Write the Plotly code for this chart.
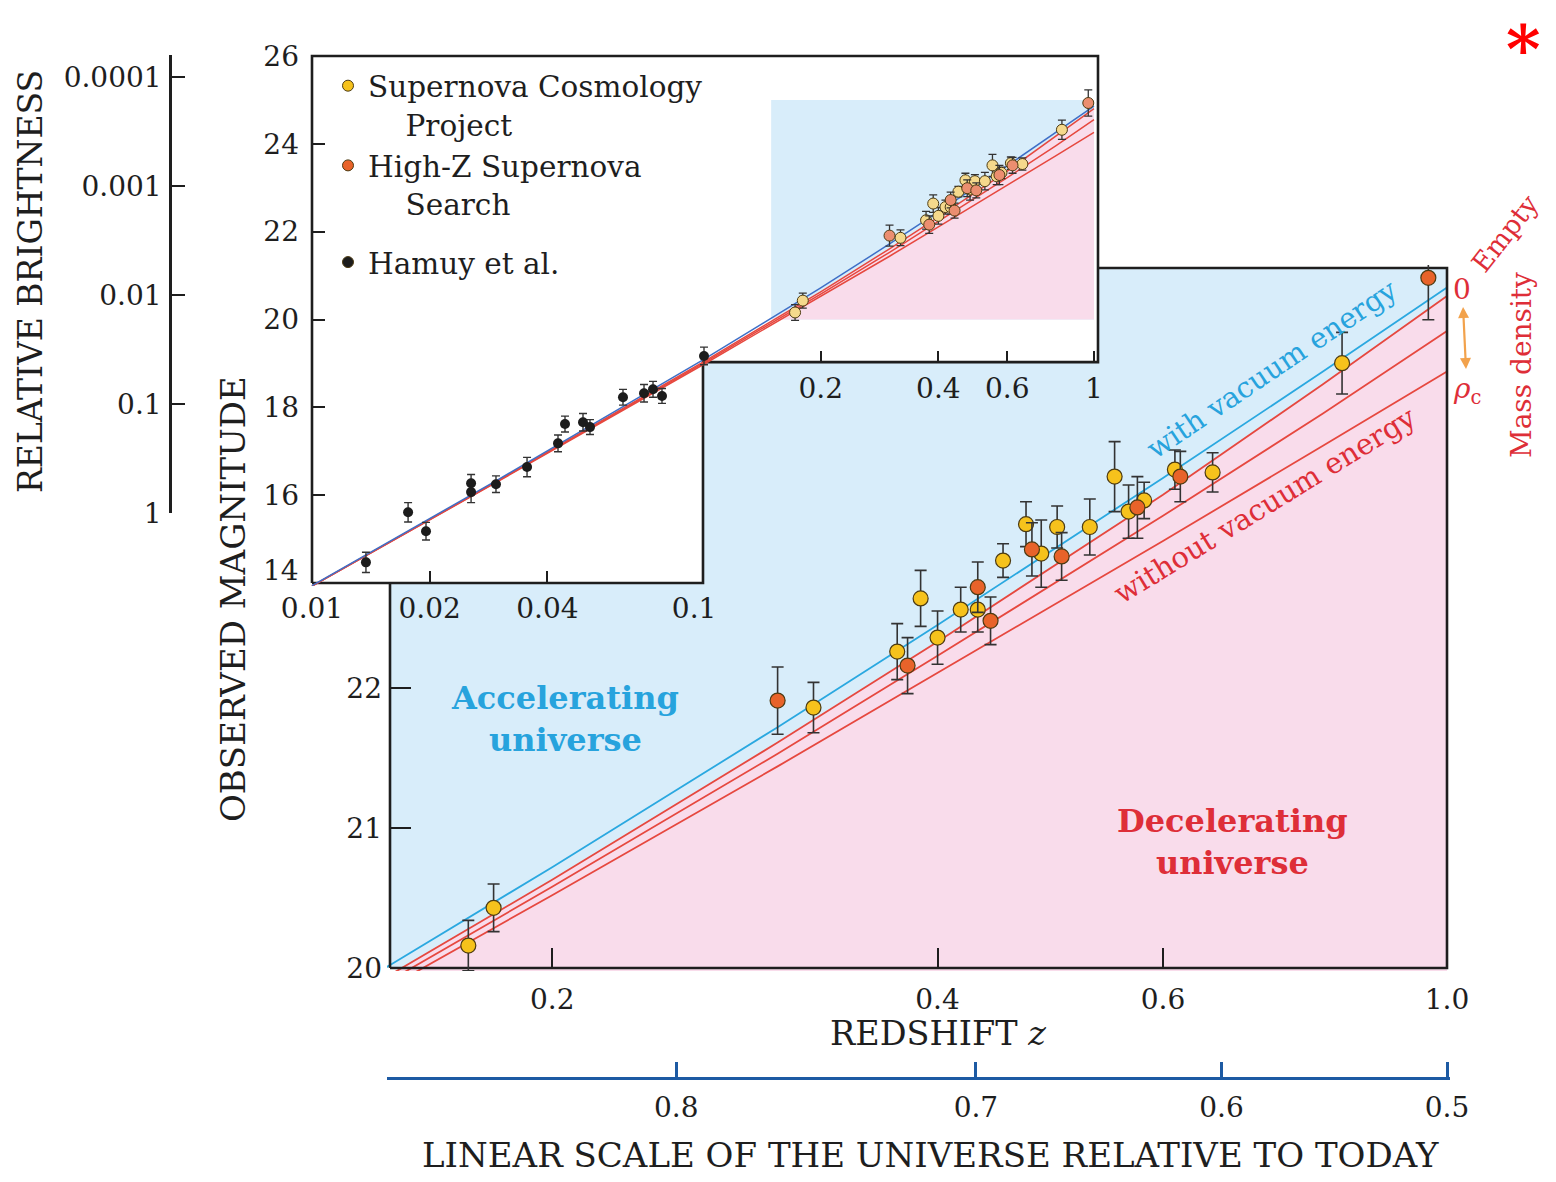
import math
import plotly.graph_objects as go

# the page body keeps an 8px margin, so the figure is drawn 16px smaller
OFF = 8
W, H = 1556 - 2 * OFF, 1182 - 2 * OFF
FONT = "DejaVu Serif"

# ---------------- data ----------------
# model curves: observed magnitude vs redshift
z_model = [0.01, 0.03, 0.1, 0.15, 0.2, 0.3, 0.4, 0.6, 0.8, 1.0]
m_with_vacuum = [13.94, 16.36, 19.08, 20.03, 20.72, 21.72, 22.45, 23.50, 24.26, 24.86]
m_empty = [13.93, 16.34, 19.03, 19.96, 20.63, 21.61, 22.33, 23.38, 24.17, 24.80]
m_mid = [13.93, 16.33, 19.00, 19.92, 20.58, 21.53, 22.23, 23.23, 23.96, 24.55]
m_critical = [13.93, 16.32, 18.97, 19.88, 20.52, 21.44, 22.11, 23.05, 23.73, 24.26]

# Supernova Cosmology Project
scp_z = [0.172, 0.180, 0.320, 0.372, 0.388, 0.400, 0.417, 0.430, 0.450, 0.469,
         0.482, 0.496, 0.526, 0.550, 0.564, 0.580, 0.613, 0.656, 0.828]
scp_m = [20.16, 20.43, 21.86, 22.26, 22.64, 22.36, 22.56, 22.56, 22.91, 23.17,
         22.96, 23.15, 23.15, 23.51, 23.26, 23.34, 23.56, 23.54, 24.32]
scp_err = [0.18, 0.17, 0.18, 0.20, 0.20, 0.19, 0.16, 0.16, 0.12, 0.16,
           0.24, 0.15, 0.20, 0.25, 0.19, 0.13, 0.14, 0.14, 0.22]

# High-Z Supernova Search
hz_z = [0.300, 0.379, 0.430, 0.440, 0.474, 0.500, 0.573, 0.619, 0.967]
hz_m = [21.91, 22.16, 22.72, 22.48, 22.99, 22.94, 23.29, 23.51, 24.93]
hz_err = [0.24, 0.20, 0.18, 0.17, 0.19, 0.17, 0.22, 0.18, 0.30]

# Hamuy et al. (nearby supernovae)
hamuy_z = [0.01374, 0.01761, 0.01957, 0.02552, 0.02552, 0.02955, 0.03548, 0.04258,
           0.04437, 0.04933, 0.0514, 0.06243, 0.07066, 0.07451, 0.07855, 0.1006]
hamuy_m = [14.47, 15.61, 15.18, 16.27, 16.07, 16.25, 16.64, 17.18,
           17.62, 17.66, 17.55, 18.23, 18.32, 18.41, 18.26, 19.17]
hamuy_err = [0.23, 0.22, 0.20, 0.20, 0.24, 0.19, 0.22, 0.19,
             0.18, 0.20, 0.17, 0.18, 0.20, 0.18, 0.17, 0.20]

# tick labels
main_z_ticks = [0.2, 0.4, 0.6, 1.0]
main_z_labels = ["0.2", "0.4", "0.6", "1.0"]
main_m_ticks = [20, 21, 22]
inset_z_ticks_low = [0.01, 0.02, 0.04, 0.1]
inset_z_labels_low = ["0.01", "0.02", "0.04", "0.1\u00a0\u00a0"]
inset_z_ticks_high = [0.2, 0.4, 0.6, 1.0]
inset_z_labels_high = ["0.2", "0.4", "0.6", "1"]
inset_m_ticks = [16, 18, 20, 22, 24, 26]
inset_m_bottom_label = "14"
brightness_ticks = [1, 0.1, 0.01, 0.001, 0.0001]
brightness_labels = ["1", "0.1", "0.01", "0.001", "0.0001"]
scale_ticks = [0.8, 0.7, 0.6, 0.5]
scale_tick_z = [1.0 / a - 1.0 for a in scale_ticks]

# ---------------- style ----------------
BG_BLUE = "#d8edfa"
BG_PINK = "#f9dceb"
LINE_BLUE = "#2aa8e0"
LINE_RED = "#e6483f"
INSET_LINE_BLUE = "#3e6fc7"
SCP_C = "#f6c21c"
HZ_C = "#e8632a"
SCP_INSET = "#f5d98c"
HZ_INSET = "#eb8e70"
OUTLINE = "#4d3b12"
ERR_C = "#333333"
TEXT_BLUE = "#27a3dd"
TEXT_RED = "#de2e38"
AXIS_BLUE = "#1d5aa3"
ARROW_C = "#f2a24c"
INK = "#1e1e1e"


def px_x(p):
    return (p - OFF) / W


def px_y(p):
    return 1 - (p - OFF) / H


PAD = 3
# main panel geometry (window pixels) and data limits
MAIN_L, MAIN_R, MAIN_T, MAIN_B = 390, 1447, 268, 968
MAIN_ZMIN, MAIN_ZMAX = 0.1494, 1.0
MAIN_MMIN, MAIN_MMAX = 20.0, 25.0
m_ppd = (MAIN_R - MAIN_L) / (math.log10(MAIN_ZMAX) - math.log10(MAIN_ZMIN))
m_ppm = (MAIN_B - MAIN_T) / (MAIN_MMAX - MAIN_MMIN)
main_xrange = [math.log10(MAIN_ZMIN) - PAD / m_ppd, math.log10(MAIN_ZMAX) + PAD / m_ppd]
main_yrange = [MAIN_MMIN - PAD / m_ppm, MAIN_MMAX + PAD / m_ppm]

# inset geometry
INS_L, INS_R, INS_T, INS_B = 312, 1098, 56, 583
INS_ZMIN, INS_ZMAX = 0.01, 1.024
INS_MMIN, INS_MMAX = 14.0, 26.0
INS_STEP_Z, INS_STEP_M = 0.1, 19.03
INS_STEP_PY = 362
i_ppd = (INS_R - INS_L) / (math.log10(INS_ZMAX) - math.log10(INS_ZMIN))
i_ppm = (INS_B - INS_T) / (INS_MMAX - INS_MMIN)
ins_xrange = [math.log10(INS_ZMIN) - PAD / i_ppd, math.log10(INS_ZMAX) + PAD / i_ppd]
ins_yrange = [INS_MMIN - PAD / i_ppm, INS_MMAX + PAD / i_ppm]

fig = go.Figure()

# ---------------- main panel ----------------
fig.add_trace(go.Scatter(
    x=[MAIN_ZMIN, MAIN_ZMAX, MAIN_ZMAX, MAIN_ZMIN], y=[MAIN_MMIN, MAIN_MMIN, MAIN_MMAX, MAIN_MMAX],
    fill="toself", fillcolor=BG_BLUE, mode="lines", line=dict(width=0),
    hoverinfo="skip", showlegend=False))
fig.add_trace(go.Scatter(
    x=z_model + [z_model[-1], z_model[0]], y=m_empty + [MAIN_MMIN - 1, MAIN_MMIN - 1],
    fill="toself", fillcolor=BG_PINK, mode="lines", line=dict(width=0),
    hoverinfo="skip", showlegend=False))
for mm in (m_critical, m_mid, m_empty):
    fig.add_trace(go.Scatter(x=z_model, y=mm, mode="lines",
                             line=dict(color=LINE_RED, width=1.8), hoverinfo="skip", showlegend=False))
fig.add_trace(go.Scatter(x=z_model, y=m_with_vacuum, mode="lines",
                         line=dict(color=LINE_BLUE, width=1.8), hoverinfo="skip", showlegend=False))
fig.add_trace(go.Scatter(
    x=[MAIN_ZMIN, MAIN_ZMAX, MAIN_ZMAX, MAIN_ZMIN, MAIN_ZMIN],
    y=[MAIN_MMIN, MAIN_MMIN, MAIN_MMAX, MAIN_MMAX, MAIN_MMIN],
    mode="lines", line=dict(color=INK, width=2.6), hoverinfo="skip", showlegend=False))
fig.add_trace(go.Scatter(
    x=scp_z, y=scp_m, mode="markers",
    error_y=dict(type="data", array=scp_err, color=ERR_C, thickness=1.6, width=6),
    marker=dict(size=15, color=SCP_C, line=dict(color=OUTLINE, width=1.2)),
    showlegend=False, name="Supernova Cosmology Project"))
fig.add_trace(go.Scatter(
    x=hz_z, y=hz_m, mode="markers",
    error_y=dict(type="data", array=hz_err, color=ERR_C, thickness=1.6, width=6),
    marker=dict(size=15, color=HZ_C, line=dict(color=OUTLINE, width=1.2)),
    showlegend=False, name="High-Z Supernova Search"))
# carrier for the scale-factor axis
fig.add_trace(go.Scatter(x=[0.5], y=[22], xaxis="x3", yaxis="y", mode="markers",
                         marker=dict(opacity=0), hoverinfo="skip", showlegend=False))

# ---------------- inset ----------------
IX, IY = "x2", "y2"
fig.add_trace(go.Scatter(
    x=[INS_ZMIN, INS_STEP_Z, INS_STEP_Z, INS_ZMAX, INS_ZMAX, INS_ZMIN],
    y=[INS_MMIN, INS_MMIN, INS_STEP_M, INS_STEP_M, INS_MMAX, INS_MMAX],
    fill="toself", fillcolor="white", mode="lines", line=dict(width=0),
    xaxis=IX, yaxis=IY, hoverinfo="skip", showlegend=False))
fig.add_trace(go.Scatter(
    x=[MAIN_ZMIN, MAIN_ZMAX, MAIN_ZMAX, MAIN_ZMIN], y=[MAIN_MMIN, MAIN_MMIN, MAIN_MMAX, MAIN_MMAX],
    fill="toself", fillcolor=BG_BLUE, mode="lines", line=dict(width=0),
    xaxis=IX, yaxis=IY, hoverinfo="skip", showlegend=False))
pz = [z for z in z_model if z >= 0.15]
pm = [max(m, MAIN_MMIN) for z, m in zip(z_model, m_empty) if z >= 0.15]
fig.add_trace(go.Scatter(
    x=pz + [MAIN_ZMAX, pz[0]], y=pm + [MAIN_MMIN, MAIN_MMIN],
    fill="toself", fillcolor=BG_PINK, mode="lines", line=dict(width=0),
    xaxis=IX, yaxis=IY, hoverinfo="skip", showlegend=False))
fig.add_trace(go.Scatter(
    x=[INS_ZMIN, INS_STEP_Z, INS_STEP_Z, INS_ZMAX, INS_ZMAX, INS_ZMIN, INS_ZMIN],
    y=[INS_MMIN, INS_MMIN, INS_STEP_M, INS_STEP_M, INS_MMAX, INS_MMAX, INS_MMIN],
    mode="lines", line=dict(color=INK, width=2.6),
    xaxis=IX, yaxis=IY, hoverinfo="skip", showlegend=False))
for mm in (m_critical, m_mid, m_empty):
    fig.add_trace(go.Scatter(x=z_model, y=mm, mode="lines", line=dict(color=LINE_RED, width=1.5),
                             xaxis=IX, yaxis=IY, hoverinfo="skip", showlegend=False))
fig.add_trace(go.Scatter(x=z_model, y=m_with_vacuum, mode="lines", line=dict(color=INSET_LINE_BLUE, width=1.5),
                         xaxis=IX, yaxis=IY, hoverinfo="skip", showlegend=False))
fig.add_trace(go.Scatter(
    x=hamuy_z, y=hamuy_m, mode="markers", xaxis=IX, yaxis=IY,
    error_y=dict(type="data", array=hamuy_err, color=ERR_C, thickness=1.4, width=4),
    marker=dict(size=10, color="#1c1c1c"), showlegend=False))
fig.add_trace(go.Scatter(
    x=scp_z, y=scp_m, mode="markers", xaxis=IX, yaxis=IY,
    error_y=dict(type="data", array=scp_err, color=ERR_C, thickness=1.3, width=4),
    marker=dict(size=11, color=SCP_INSET, line=dict(color=OUTLINE, width=1)), showlegend=False))
fig.add_trace(go.Scatter(
    x=hz_z, y=hz_m, mode="markers", xaxis=IX, yaxis=IY,
    error_y=dict(type="data", array=hz_err, color=ERR_C, thickness=1.3, width=4),
    marker=dict(size=11, color=HZ_INSET, line=dict(color=OUTLINE, width=1)), showlegend=False))
# carriers for the extra axes
fig.add_trace(go.Scatter(x=[0.5], y=[22], xaxis="x4", yaxis=IY, mode="markers",
                         marker=dict(opacity=0), hoverinfo="skip", showlegend=False))
fig.add_trace(go.Scatter(x=[0.5], y=[0.01], xaxis=IX, yaxis="y3", mode="markers",
                         marker=dict(opacity=0), hoverinfo="skip", showlegend=False))

# legend entries
NB = "\u00a0" * 4
for name, col, grp in [("Supernova Cosmology<br>" + NB + "Project", SCP_C, "a"),
                       ("High-Z Supernova<br>" + NB + "Search", HZ_C, "a"),
                       ("Hamuy et al.", "#1c1c1c", "b")]:
    fig.add_trace(go.Scatter(x=[None], y=[None], mode="markers", xaxis=IX, yaxis=IY,
                             marker=dict(size=11, color=col, line=dict(color=OUTLINE, width=1)),
                             name=name, legendgroup=grp, showlegend=True))

tickfont = dict(family=FONT, size=28, color=INK)
common = dict(showgrid=False, zeroline=False, showline=False, ticks="inside", automargin=False,
              tickcolor=INK, tickwidth=2, tickfont=tickfont)

fig.update_layout(
    width=W, height=H, margin=dict(l=0, r=0, t=0, b=0, pad=0, autoexpand=False),
    paper_bgcolor="white", plot_bgcolor="rgba(0,0,0,0)",
    showlegend=True,
    legend=dict(x=px_x(328), y=px_y(60), xanchor="left", yanchor="top",
                bgcolor="rgba(0,0,0,0)", font=dict(family=FONT, size=29.5, color=INK),
                traceorder="grouped", tracegroupgap=17, valign="top", itemclick=False),
    xaxis=dict(type="log", domain=[px_x(MAIN_L - PAD), px_x(MAIN_R + PAD)], range=main_xrange,
               anchor="free", position=px_y(MAIN_B), ticklen=20,
               tickvals=main_z_ticks, ticktext=main_z_labels, ticklabelstandoff=12, **common),
    yaxis=dict(domain=[px_y(MAIN_B + PAD), px_y(MAIN_T - PAD)], range=main_yrange,
               anchor="free", position=px_x(MAIN_L), side="left", ticklen=20,
               tickvals=main_m_ticks, ticklabelstandoff=8, **common),
    xaxis2=dict(type="log", domain=[px_x(INS_L - PAD), px_x(INS_R + PAD)], range=ins_xrange,
                anchor="free", position=px_y(INS_B), ticklen=12,
                tickvals=inset_z_ticks_low, ticktext=inset_z_labels_low, ticklabelstandoff=6, **common),
    xaxis4=dict(type="log", overlaying="x2", range=ins_xrange,
                anchor="free", position=px_y(INS_STEP_PY), ticklen=11,
                tickvals=inset_z_ticks_high, ticktext=inset_z_labels_high, ticklabelstandoff=7, **common),
    yaxis2=dict(domain=[px_y(INS_B + PAD), px_y(INS_T - PAD)], range=ins_yrange,
                anchor="free", position=px_x(INS_L), side="left", ticklen=12,
                tickvals=inset_m_ticks, ticklabelstandoff=13, **common),
    xaxis3=dict(type="log", overlaying="x", range=main_xrange, anchor="free", position=px_y(1078),
                showgrid=False, zeroline=False, showline=True, linecolor=AXIS_BLUE, linewidth=3,
                ticks="inside", ticklen=15, tickwidth=2.5, tickcolor=AXIS_BLUE, automargin=False,
                tickvals=scale_tick_z, ticktext=[str(a) for a in scale_ticks],
                tickfont=tickfont, ticklabelstandoff=3),
    yaxis3=dict(type="log", domain=[px_y(513), px_y(55)], range=[0, -4.2],
                anchor="free", position=px_x(170), side="left", automargin=False,
                showgrid=False, zeroline=False, showline=True, linecolor=INK, linewidth=2.5,
                ticks="inside", ticklen=13, tickwidth=2, tickcolor=INK,
                tickvals=brightness_ticks, ticktext=brightness_labels,
                tickfont=tickfont, ticklabelstandoff=2),
)


def ann(text, x, y, size, color=INK, angle=0, bold=False, yanchor="middle"):
    t = "<b>" + text + "</b>" if bold else text
    return dict(text=t, x=px_x(x), y=px_y(y), xref="paper", yref="paper", showarrow=False,
                textangle=angle, xanchor="center", yanchor=yanchor,
                font=dict(family=FONT, size=size, color=color))


rho = ann("<i>ρ</i><sub>c</sub>", 1467, 306, 28, TEXT_RED)
rho.update(showarrow=True, ax=4, ay=84, axref="pixel", ayref="pixel",
           arrowside="end+start", arrowhead=2, arrowsize=1, arrowwidth=2.2,
           arrowcolor=ARROW_C, standoff=1, startstandoff=1)
rho["x"] = px_x(1463)

anns = [
    ann("RELATIVE BRIGHTNESS", 30, 282, 33, angle=-90),
    ann("OBSERVED MAGNITUDE", 233, 599, 34, angle=-90),
    ann("REDSHIFT <i>z</i>", 938, 1033, 33.5),
    ann("LINEAR SCALE OF THE UNIVERSE RELATIVE TO TODAY", 931, 1155, 34),
    ann(inset_m_bottom_label, 281, 570, 28),
    ann("Accelerating<br>universe", 565, 719, 32, TEXT_BLUE, bold=True),
    ann("Decelerating<br>universe", 1232, 842, 32, TEXT_RED, bold=True),
    ann("with vacuum energy", 1272, 370, 28.5, TEXT_BLUE, angle=-34),
    ann("without vacuum energy", 1265, 505, 29, TEXT_RED, angle=-31.5),
    ann("0", 1462, 289, 28, TEXT_RED),
    ann("Empty", 1505, 234, 27, TEXT_RED, angle=-52),
    ann("Mass density", 1521, 365, 28, TEXT_RED, angle=-90),
    ann("*", 1523, OFF, 66, "#ff0000", bold=True, yanchor="top"),
    rho,
]
fig.update_layout(annotations=anns)

fig.write_html("out.html")
